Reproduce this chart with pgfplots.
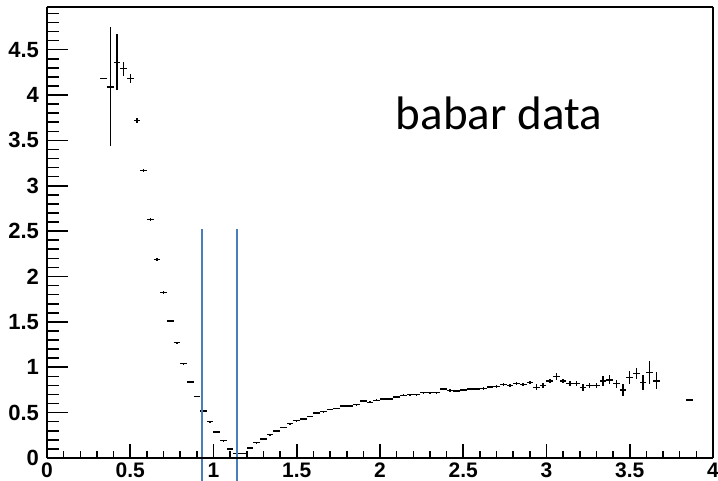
\documentclass[border=0pt]{standalone}
\usepackage{fontspec}
\setmainfont{Liberation Sans}
\newfontfamily\carlito{Carlito}
\newfontfamily\rootbold{Liberation Sans Bold}
\usepackage{pgfplots}
\pgfplotsset{compat=1.18}
\definecolor{linblue}{RGB}{74,126,187}

% babar spectrum: bin centre, content, error (bins 0.04 wide)
\pgfplotstableread{
x     y      ey
0.34  4.185  0
0.38  4.09   0.655
0.42  4.36   0.31
0.46  4.29   0.077
0.50  4.18   0.05
0.54  3.72   0.025
0.58  3.17   0.02
0.62  2.63   0.015
0.66  2.19   0.015
0.70  1.825  0.015
0.74  1.51   0.01
0.78  1.27   0.01
0.82  1.04   0.01
0.86  0.837  0.01
0.90  0.68   0.008
0.94  0.52   0.008
0.98  0.40   0.006
1.02  0.287  0.005
1.06  0.19   0.005
1.10  0.10   0.004
1.14  0.047  0.004
1.18  0.05   0.004
1.22  0.11   0.005
1.26  0.17   0.005
1.30  0.21   0.006
1.34  0.257  0.006
1.38  0.297  0.006
1.42  0.338  0.006
1.46  0.38   0.006
1.50  0.41   0.007
1.54  0.43   0.007
1.58  0.46   0.007
1.62  0.495  0.008
1.66  0.51   0.008
1.70  0.536  0.008
1.74  0.547  0.008
1.78  0.573  0.008
1.82  0.573  0.009
1.86  0.587  0.009
1.90  0.628  0.01
1.94  0.613  0.01
1.98  0.635  0.01
2.02  0.65   0.01
2.06  0.65   0.01
2.10  0.672  0.01
2.14  0.69   0.011
2.18  0.697  0.011
2.22  0.697  0.011
2.26  0.72   0.012
2.30  0.72   0.012
2.34  0.72   0.012
2.38  0.76   0.013
2.42  0.745  0.013
2.46  0.74   0.014
2.50  0.749  0.014
2.54  0.76   0.015
2.58  0.76   0.015
2.62  0.767  0.016
2.66  0.782  0.016
2.70  0.785  0.017
2.74  0.81   0.018
2.78  0.80   0.018
2.82  0.82   0.019
2.86  0.81   0.02
2.90  0.833  0.02
2.94  0.78   0.03
2.98  0.80   0.025
3.02  0.85   0.025
3.06  0.90   0.035
3.10  0.85   0.025
3.14  0.82   0.025
3.18  0.82   0.025
3.22  0.775  0.035
3.26  0.797  0.03
3.30  0.797  0.03
3.34  0.848  0.06
3.38  0.86   0.05
3.42  0.82   0.045
3.46  0.75   0.07
3.50  0.885  0.073
3.54  0.93   0.064
3.58  0.833  0.08
3.62  0.94   0.13
3.66  0.85   0.095
3.86  0.64   0
}\babar

\pgfplotsset{
  rootframe/.style={
    scale only axis, width=333pt, height=225.5pt,
    xmin=0, xmax=4, ymin=0, ymax=4.97,
    axis line style={line width=0.8pt},
    tick style={line width=0.8pt, black},
    tick align=inside,
    /pgf/number format/assume math mode=true,
    ticklabel style={font=\rootbold\fontsize{11}{12}\selectfont},
  },
}

\begin{document}
\begin{tikzpicture}
\useasboundingbox (-23.5pt,-11.5pt) rectangle (335.5pt,229pt);

% y axis, data
\begin{axis}[rootframe,
  hide x axis,
  clip=false,
  ytick={0,0.5,1,1.5,2,2.5,3,3.5,4,4.5},
  minor ytick={0,0.1,...,4.95},
  ytick pos=left,
  yticklabel style={xshift=-0.5pt},
  major tick length=10.5pt, minor tick length=5.8pt,
]
\addplot[draw=none, mark=none,
  error bars/.cd, x dir=both, x fixed=0.02, y dir=both, y explicit,
  error mark=none, error bar style={draw=black, line width=0.7pt}]
  table[x=x, y=y, y error=ey] {\babar};
\addplot[linblue, line width=1.1pt] coordinates {(0.929,-0.26) (0.929,2.52)};
\addplot[linblue, line width=1.1pt] coordinates {(1.139,-0.26) (1.139,2.52)};
\node[anchor=base, font=\carlito\fontsize{23.5}{26}\selectfont]
  at (axis cs:2.714,3.62) {babar data};
\end{axis}

% x axis
\begin{axis}[rootframe,
  hide y axis,
  xtick={0,0.5,1,1.5,2,2.5,3,3.5,4},
  minor xtick={0,0.1,...,4},
  xtick pos=bottom,
  xticklabel style={yshift=1.2pt, font=\rootbold\fontsize{10.5}{11}\selectfont},
  major tick length=7pt, minor tick length=3.5pt,
]
\end{axis}
\end{tikzpicture}
\end{document}
